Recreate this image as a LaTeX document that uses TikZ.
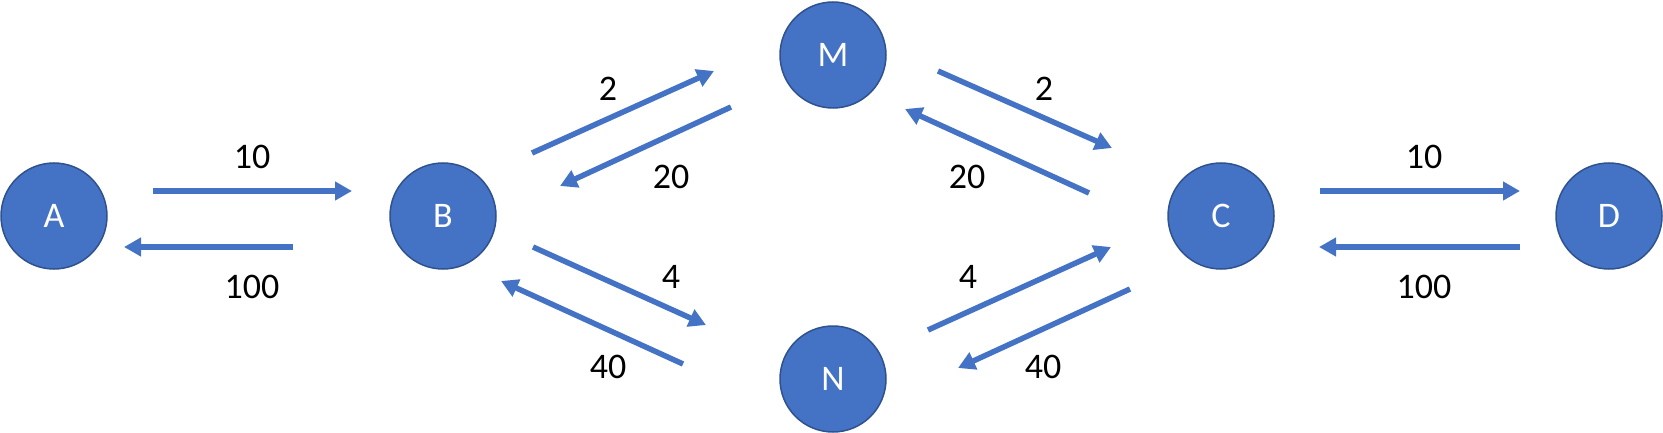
\documentclass[tikz,border=0pt]{standalone}
\usepackage{fontspec}
\setmainfont{Carlito}
\usepackage{xcolor}
\definecolor{nodeblue}{HTML}{4472C4}
\definecolor{nodeedge}{HTML}{2F528F}
\usetikzlibrary{arrows.meta}

\begin{document}
\begin{tikzpicture}[
    % GLOBAL CFG
    x=1pt, y=-1pt,
    font=\fontsize{36}{42}\selectfont,
    % Styles
    state/.style={% For the circles
        circle,
        fill=nodeblue,
        draw=nodeedge,
        line width=1.5pt,
        minimum size=106pt,
        inner sep=0pt,
        text=white,
        },
    flow/.style={% For the arrows
        draw=nodeblue,
        line width=5.5pt,
        -{Triangle[length=17pt,width=18pt]},
        },
    rate/.style={% For the numbers
        text=black,
        inner sep=0pt,
        },
    ]

    \useasboundingbox (0,0) rectangle (1663,433);

    % Draw the states
    \node [state] (A) at (54,216) {A};
    \node [state] (B) at (443,216) {B};
    \node [state] (M) at (833,55) {M};
    \node [state] (N) at (833,379) {N};
    \node [state] (C) at (1221,216) {C};
    \node [state] (D) at (1609,216) {D};

    % A <-> B
    \draw [flow] ([shift={(99,-25)}]A.center) -- ([shift={(-91,-25)}]B.center);
    \draw [flow] ([shift={(-150,31)}]B.center) -- ([shift={(70,31)}]A.center);
    \node [rate] (ab) at (252,157) {10};
    \node [rate] (ba) at (252,287) {100};

    % B <-> M
    \draw [flow] ([shift={(89,-63)}]B.center) -- ([shift={(-119,16)}]M.center);
    \draw [flow] ([shift={(-102,52)}]M.center) -- ([shift={(117,-30)}]B.center);
    \node [rate] (bm) at (608,89) {2};
    \node [rate] (mb) at (671,177) {20};

    % M <-> C
    \draw [flow] ([shift={(105,16)}]M.center) -- ([shift={(-109,-68)}]C.center);
    \draw [flow] ([shift={(-132,-23)}]C.center) -- ([shift={(72,54)}]M.center);
    \node [rate] (mc) at (1044,89) {2};
    \node [rate] (cm) at (967,177) {20};

    % B <-> N
    \draw [flow] ([shift={(90,31)}]B.center) -- ([shift={(-127,-54)}]N.center);
    \draw [flow] ([shift={(-150,-15)}]N.center) -- ([shift={(58,65)}]B.center);
    \node [rate] (bn) at (671,277) {4};
    \node [rate] (nb) at (608,367) {40};

    % N <-> C
    \draw [flow] ([shift={(95,-49)}]N.center) -- ([shift={(-110,31)}]C.center);
    \draw [flow] ([shift={(-91,73)}]C.center) -- ([shift={(125,-11)}]N.center);
    \node [rate] (nc) at (968,277) {4};
    \node [rate] (cn) at (1043,367) {40};

    % C <-> D
    \draw [flow] ([shift={(99,-25)}]C.center) -- ([shift={(-89,-25)}]D.center);
    \draw [flow] ([shift={(-89,31)}]D.center) -- ([shift={(98,31)}]C.center);
    \node [rate] (cd) at (1424,157) {10};
    \node [rate] (dc) at (1424,287) {100};

\end{tikzpicture}
\end{document}
